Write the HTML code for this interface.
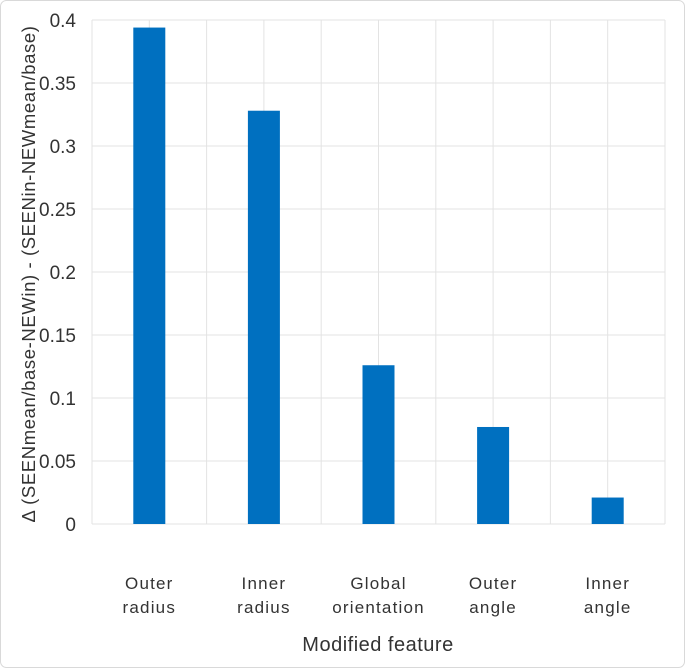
<!DOCTYPE html>
<html><head><meta charset="utf-8"><style>
body{margin:0;background:#fff;}
svg{display:block;font-family:"Liberation Sans",sans-serif;}
</style></head><body>
<svg id="chart" width="685" height="668" viewBox="0 0 685 668">
<rect x="0.5" y="0.5" width="684" height="667" rx="6" fill="#fff" stroke="#d9d9d9"/>
<g id="grid"></g><g id="bars"></g><g id="ylabels"></g><g id="xlabels"></g>
<text transform="translate(35,274) rotate(-90)" text-anchor="middle" font-size="18.5" letter-spacing="0.6" fill="#333">Δ (SEENmean/base-NEWin) - (SEENin-NEWmean/base)</text>
<text x="378" y="651" text-anchor="middle" font-size="20" letter-spacing="0.5" fill="#333">Modified feature</text>
</svg>
<script>
const categories=[["Outer","radius"],["Inner","radius"],["Global","orientation"],["Outer","angle"],["Inner","angle"]];
const values=[0.394,0.328,0.126,0.077,0.021];
const yTicks=[0,0.05,0.1,0.15,0.2,0.25,0.3,0.35,0.4];
const yTickLabels=["0","0.05","0.1","0.15","0.2","0.25","0.3","0.35","0.4"];
const L=92,R=665,T=20,B=524,NS="http://www.w3.org/2000/svg";
const y=v=>B-(v/0.4)*(B-T);
const band=(R-L)/categories.length;
const x=i=>L+band*(i+0.5);
function mk(tag,attrs,parent){const e=document.createElementNS(NS,tag);for(const k in attrs)e.setAttribute(k,attrs[k]);document.getElementById(parent).appendChild(e);return e;}
yTicks.forEach((t,i)=>{
 const g=mk('line',{x1:L,x2:R,y1:y(t),y2:y(t),stroke:'#e3e3e3','stroke-width':1},'grid');
 
 
 const tx=mk('text',{x:76,y:y(t)+7,'text-anchor':'end','font-size':19,fill:'#333'},'ylabels');
 tx.textContent=yTickLabels[i];
 
 
});
for(let k=0;k<=categories.length*2;k++){
 const xx=L+band*k/2;
 const g=mk('line',{x1:xx,x2:xx,y1:T,y2:B,stroke:'#e3e3e3','stroke-width':1},'grid');
 
 
}
values.forEach((v,i)=>{
 const r=mk('rect',{x:x(i)-16,y:y(v),width:32,height:B-y(v),fill:'#0070c0'},'bars');
 
 
 categories[i].forEach((w,j)=>{
  const t=mk('text',{x:x(i),y:589+j*24,'text-anchor':'middle','font-size':17,fill:'#333','letter-spacing':'1.2'},'xlabels');
  t.textContent=w;
  
  
 });
});
</script>
</body></html>
